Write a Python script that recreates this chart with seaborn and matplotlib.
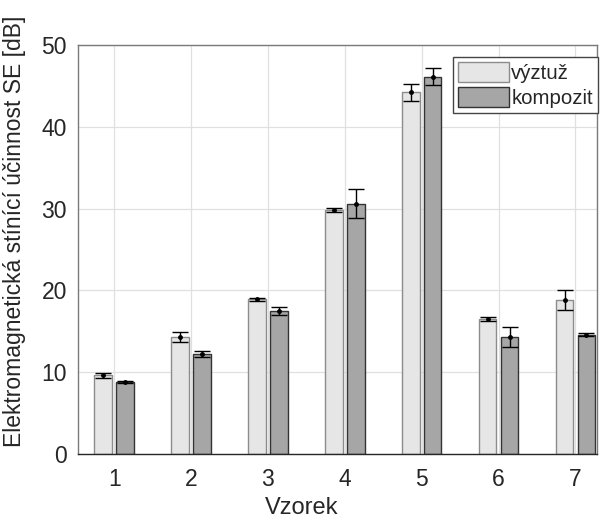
import matplotlib
matplotlib.use("Agg")
import matplotlib.pyplot as plt
import seaborn as sns
import pandas as pd
import numpy as np

samples = ["1", "2", "3", "4", "5", "6", "7"]
vyztuz = [9.6, 14.3, 18.9, 29.8, 44.2, 16.5, 18.8]
vyztuz_err = [0.3, 0.6, 0.15, 0.25, 1.05, 0.3, 1.2]
kompozit = [8.8, 12.2, 17.5, 30.6, 46.1, 14.3, 14.6]
kompozit_err = [0.15, 0.35, 0.45, 1.8, 1.05, 1.25, 0.15]
series = ["výztuž", "kompozit"]

df = pd.DataFrame({
    "Vzorek": samples * 2,
    "SE": vyztuz + kompozit,
    "err": vyztuz_err + kompozit_err,
    "serie": [series[0]] * len(samples) + [series[1]] * len(samples),
})

sns.set_theme(style="white")
plt.rcParams["font.family"] = ["Liberation Sans", "DejaVu Sans"]

fig = plt.figure(figsize=(6.04, 5.22), dpi=100)
ax = fig.add_axes([78 / 604, 1 - 454 / 522, 519 / 604, 409 / 522])

palette = {"výztuž": "#e6e6e6", "kompozit": "#a6a6a6"}
sns.barplot(data=df, x="Vzorek", y="SE", hue="serie", palette=palette,
            width=0.57, gap=0.2, errorbar=None, ax=ax, legend=True,
            saturation=1)

edge = {"výztuž": "#8c8c8c", "kompozit": "#333333"}
errs = {"výztuž": vyztuz_err, "kompozit": kompozit_err}
vals = {"výztuž": vyztuz, "kompozit": kompozit}
for cont, name in zip(ax.containers, series):
    xs = []
    for p in cont.patches:
        p.set_edgecolor(edge[name])
        p.set_linewidth(1.0)
        xs.append(p.get_x() + p.get_width() / 2)
    ax.errorbar(xs, vals[name], yerr=errs[name], fmt="o", color="black",
                ms=2.5, elinewidth=1, capsize=5.5, capthick=1, zorder=5)

ax.set_ylim(0, 50)
ax.set_xlim(-0.47, 6.28)
ax.set_yticks([0, 10, 20, 30, 40, 50])
ax.grid(True, color="#e0e0e0", linewidth=0.9)
ax.set_axisbelow(True)
for s in ax.spines.values():
    s.set_visible(True)
    s.set_color("#7a7a7a")
    s.set_linewidth(1.0)
ax.spines["bottom"].set_color("#262626")
ax.tick_params(axis="both", direction="in", length=3, labelsize=16.5,
               colors="#262626", width=0.8)
ax.tick_params(axis="x", pad=10)
ax.tick_params(axis="y", pad=8)
ax.set_xlabel("Vzorek", fontsize=17, color="#262626", va="center")
ax.xaxis.set_label_coords((302 - 78) / 519, -54 / 409)
ax.set_ylabel("Elektromagnetická stínící účinnost SE [dB]", fontsize=16.5,
              color="#262626", va="center")
ax.yaxis.set_label_coords(-(78 - 15) / 519, (454 - 231) / 409)

leg = ax.legend(loc="upper right", bbox_to_anchor=(1.002, 1 - 12 / 409),
                fontsize=14.7, frameon=True, fancybox=False,
                edgecolor="#444444", framealpha=1, handlelength=2.5,
                handleheight=1.1, handletextpad=0.1, labelspacing=0.2,
                borderpad=0.25, borderaxespad=0.0, title=None)
for h, name in zip(leg.legend_handles, series):
    h.set_edgecolor(edge[name])
leg.get_frame().set_linewidth(1.0)

fig.savefig("out.png", dpi=100)
